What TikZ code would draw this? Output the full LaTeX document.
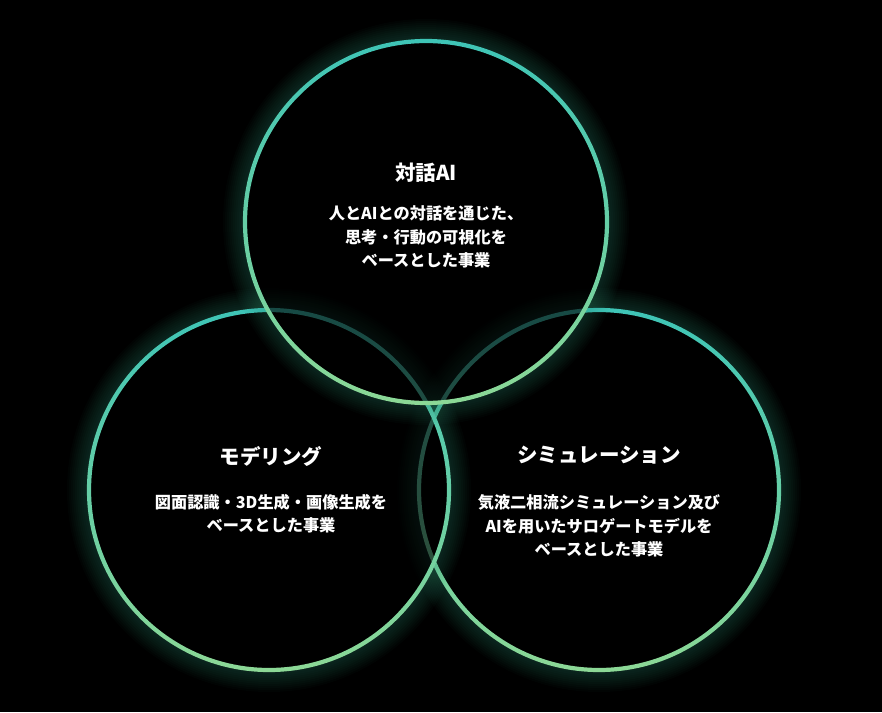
\documentclass[tikz,border=0pt]{standalone}
\usepackage{fontspec}
\setmainfont{Noto Sans CJK JP}
\definecolor{ctop}{RGB}{62,196,182}
\definecolor{cbot}{RGB}{140,216,150}
\definecolor{glowc}{RGB}{50,150,120}
\tikzset{
  ttl/.style={text=white, font=\fontsize{20.5}{24}\selectfont\bfseries, inner sep=0pt},
  bdy/.style={text=white, font=\fontsize{16.2}{23.5}\selectfont\bfseries, align=center, inner sep=0pt},
}
\newcommand{\glowring}[2]{%
  \fill[black, opacity=0.62] (#1) circle (#2);
  \begin{scope}[even odd rule]
    \clip (-10,-10) rectangle (900,730) (#1) circle (#2);
    \foreach \w in {4,8,...,44} {\draw[glowc, opacity=0.03, line width=\w pt] (#1) circle (#2);}
  \end{scope}
  \path[shade, top color=ctop, bottom color=cbot, even odd rule] (#1) circle (#2+2.1) (#1) circle (#2-2.1);
}
\begin{document}
\begin{tikzpicture}[x=1pt,y=-1pt]
\fill[black] (0,0) rectangle (882,712);
\useasboundingbox (0,0) rectangle (882,712);
\coordinate (cR) at (599,490);
\coordinate (cL) at (269,490);
\coordinate (cT) at (426,222);
\glowring{cR}{180}
\glowring{cL}{180}
\glowring{cT}{181}
\node[ttl] (tT) at (426,173) {対話AI};
\node[bdy] (bT) at (426,237) {人とAIとの対話を通じた、\\思考・行動の可視化を\\ベースとした事業};
\node[ttl] (tL) at (271,457) {モデリング};
\node[bdy] (bL) at (271,513.5) {図面認識・3D生成・画像生成を\\ベースとした事業};
\node[ttl] (tR) at (599,455) {シミュレーション};
\node[bdy] (bR) at (599,526) {気液二相流シミュレーション及び\\AIを用いたサロゲートモデルを\\ベースとした事業};
\end{tikzpicture}
\end{document}
